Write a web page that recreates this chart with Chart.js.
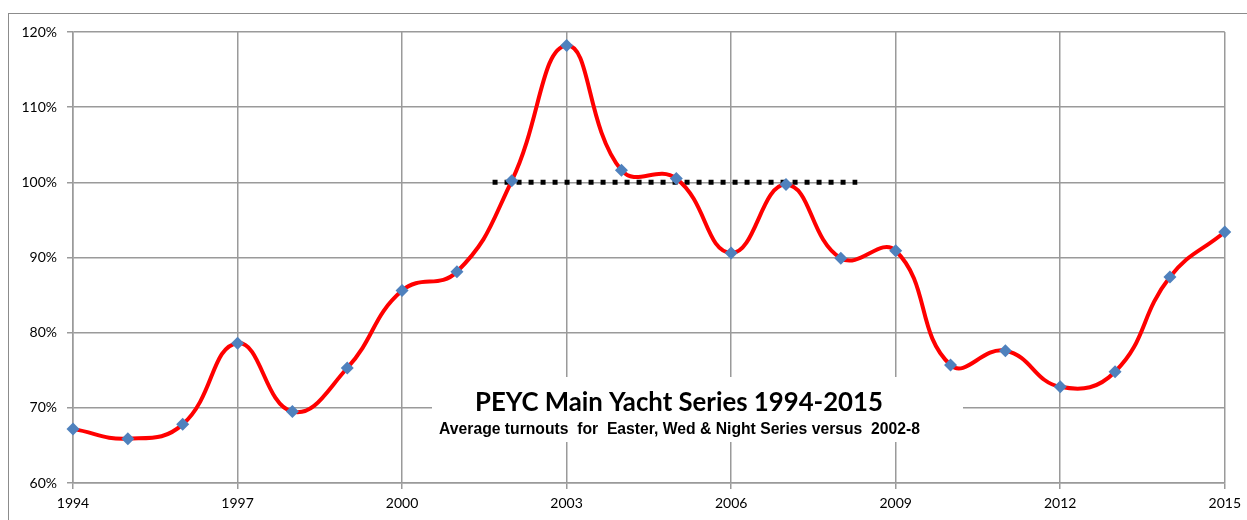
<!DOCTYPE html>
<html>
<head>
<meta charset="utf-8">
<script src="https://cdn.jsdelivr.net/npm/chart.js@4/dist/chart.umd.min.js"></script>
<style>
    html, body { margin: 0; padding: 0; background: #fff; }
    #wrap { position: relative; width: 1247px; height: 520px; }
</style>
</head>
<body>
<div id="wrap"><canvas id="turnoutChart"></canvas></div>
<script>
// Average turnout per year, % of the 2002-8 average
const years = [1994, 1995, 1996, 1997, 1998, 1999, 2000, 2001, 2002, 2003, 2004,
               2005, 2006, 2007, 2008, 2009, 2010, 2011, 2012, 2013, 2014, 2015];
const turnout = [67.2, 65.9, 67.8, 78.6, 69.5, 75.3, 85.6, 88.1, 100.2, 118.2, 101.6,
                 100.5, 90.6, 99.7, 89.9, 90.9, 75.7, 77.6, 72.8, 74.8, 87.4, 93.4];

// 2002-8 reference level (dotted line)
const benchmarkYears = [2001.65, 2008.3];
const benchmarkValues = [100, 100];

const xTickYears = [1994, 1997, 2000, 2003, 2006, 2009, 2012, 2015];
const yTickValues = [60, 70, 80, 90, 100, 110, 120];

const chartTitle = 'PEYC Main Yacht Series 1994-2015';
const chartSubtitle = 'Average turnouts  for  Easter, Wed & Night Series versus  2002-8';

document.addEventListener('DOMContentLoaded', function () {
    const ctx = document.getElementById('turnoutChart').getContext('2d');

    // fit a font to a target width
    function fitFont(c, text, weight, family, width) {
        c.font = weight + ' 100px ' + family;
        const size = 100 * width / c.measureText(text).width;
        return weight + ' ' + size.toFixed(2) + 'px ' + family;
    }

    const titleBox = {
        id: 'titleBox',
        beforeDatasetsDraw(chart) {
            const c = chart.ctx;
            c.save();
            c.fillStyle = '#fff';
            c.fillRect(432, 377, 531, 65);
            c.fillStyle = '#000';
            c.textAlign = 'center';
            c.textBaseline = 'alphabetic';
            c.font = fitFont(c, chartTitle, 'bold', 'Lato', 408);
            c.fillText(chartTitle, 679, 411);
            c.font = fitFont(c, chartSubtitle, 'bold', '"Liberation Sans"', 481);
            c.fillText(chartSubtitle, 679.5, 434);
            c.restore();
        },
        afterDraw(chart) {
            const c = chart.ctx;
            c.save();
            c.strokeStyle = '#8c8c8c';
            c.lineWidth = 1;
            c.strokeRect(8.5, 13.5, 1260, 540);
            c.restore();
        }
    };

    new Chart(ctx, {
        type: 'line',
        data: {
            datasets: [
                {
                    label: 'Turnout',
                    data: years.map((y, i) => ({ x: y, y: turnout[i] })),
                    borderColor: '#ff0000',
                    borderWidth: 4,
                    tension: 0.45,
                    pointStyle: 'rectRot',
                    pointRadius: 6.5,
                    pointBackgroundColor: '#4f81bd',
                    pointBorderColor: '#4f81bd',
                    pointBorderWidth: 0,
                    clip: false,
                    order: 0,
                },
                {
                    label: '2002-8',
                    data: benchmarkYears.map((y, i) => ({ x: y, y: benchmarkValues[i] })),
                    borderColor: '#000',
                    borderWidth: 5,
                    borderDash: [5, 7],
                    borderCapStyle: 'butt',
                    pointRadius: 0,
                    order: 1,
                },
            ],
        },
        options: {
            responsive: true,
            maintainAspectRatio: false,
            animation: false,
            layout: { padding: { top: 32, right: 22, left: 0, bottom: 0 } },
            plugins: {
                legend: { display: false },
                tooltip: { enabled: false },
            },
            scales: {
                x: {
                    type: 'linear',
                    min: 1994,
                    max: 2015,
                    afterBuildTicks: (scale) => { scale.ticks = xTickYears.map(v => ({ value: v })); },
                    afterFit: (scale) => { scale.height = 37; },
                    grid: { color: '#9a9a9a', lineWidth: 1.5, tickLength: 6 },
                    border: { color: '#9a9a9a', width: 1.5 },
                    ticks: {
                        padding: 6,
                        color: '#000',
                        font: { family: 'Lato', size: 14 },
                        callback: (v) => String(v),
                        maxRotation: 0,
                    },
                },
                y: {
                    min: 60,
                    max: 120,
                    afterBuildTicks: (scale) => { scale.ticks = yTickValues.map(v => ({ value: v })); },
                    afterFit: (scale) => { scale.width = 73; },
                    grid: { color: '#9a9a9a', lineWidth: 1.5, tickLength: 6 },
                    border: { color: '#9a9a9a', width: 1.5 },
                    ticks: {
                        padding: 10,
                        color: '#000',
                        font: { family: 'Lato', size: 14 },
                        callback: (v) => v + '%',
                    },
                },
            },
        },
        plugins: [titleBox],
    });
});
</script>
</body>
</html>
